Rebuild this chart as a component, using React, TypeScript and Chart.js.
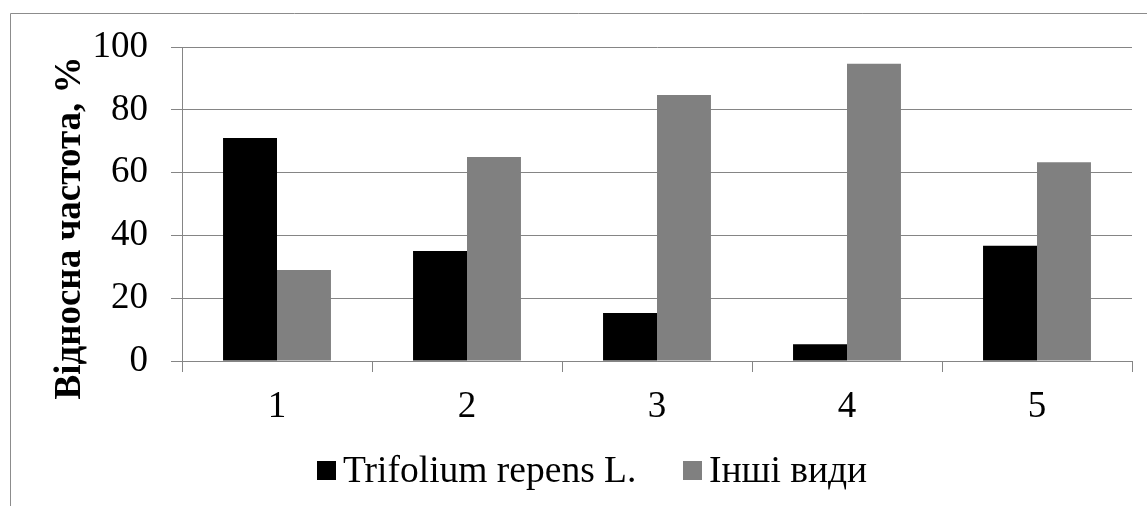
import React, { useEffect, useRef } from "react";
import { Chart, registerables } from "chart.js";

Chart.register(...registerables);

const categories = ["1", "2", "3", "4", "5"];
const trifoliumValues = [71, 35, 15.3, 5.3, 36.7];
const otherValues = [29, 65, 84.7, 94.7, 63.3];
const seriesNames = ["Trifolium repens L.", "Інші види"];
const seriesColors = ["#000000", "#808080"];
const yTitle = "Відносна частота, %";

const FONT = "'Liberation Serif', 'Times New Roman', serif";
const GRID = "#858585";

const framePlugin = {
  id: "frame",
  beforeDraw(chart: any) {
    const ctx = chart.ctx;
    ctx.save();
    ctx.fillStyle = "#ffffff";
    ctx.fillRect(0, 0, chart.width, chart.height);
    ctx.strokeStyle = "#8c8c8c";
    ctx.lineWidth = 1;
    ctx.beginPath();
    ctx.moveTo(10.5, chart.height);
    ctx.lineTo(10.5, 13.5);
    ctx.lineTo(chart.width, 13.5);
    ctx.stroke();
    ctx.restore();
  },
};

const titleAndLegendPlugin = {
  id: "titleLegend",
  afterDraw(chart: any) {
    const ctx = chart.ctx;
    ctx.save();
    // Y axis title
    ctx.translate(80, 228);
    ctx.rotate(-Math.PI / 2);
    ctx.font = `bold 37px ${FONT}`;
    ctx.fillStyle = "#000";
    ctx.textAlign = "center";
    ctx.textBaseline = "alphabetic";
    ctx.fillText(yTitle, 0, 0);
    ctx.restore();

    // Legend
    ctx.save();
    ctx.font = `37.5px ${FONT}`;
    ctx.textBaseline = "alphabetic";
    ctx.textAlign = "left";
    const box = 19;
    const boxTop = 461;
    const baseline = 481.5;
    const starts = [317, 683];
    chart.data.datasets.forEach((ds: any, i: number) => {
      const x = starts[i];
      ctx.fillStyle = ds.backgroundColor;
      ctx.fillRect(x, boxTop, box, box);
      ctx.fillStyle = "#000";
      ctx.fillText(ds.label, x + box + 7, baseline);
    });
    ctx.restore();
  },
};

export default function App() {
  const ref = useRef<HTMLCanvasElement>(null);
  useEffect(() => {
    if (!ref.current) return;
    const chart = new Chart(ref.current, {
      type: "bar",
      data: {
        labels: categories,
        datasets: [
          {
            label: seriesNames[0],
            data: trifoliumValues,
            backgroundColor: seriesColors[0],
            categoryPercentage: 0.568,
            barPercentage: 1,
          },
          {
            label: seriesNames[1],
            data: otherValues,
            backgroundColor: seriesColors[1],
            categoryPercentage: 0.568,
            barPercentage: 1,
          },
        ],
      },
      options: {
        animation: false,
        responsive: false,
        devicePixelRatio: 1,
        layout: { padding: { top: 47, right: 15, left: 0, bottom: 0 } },
        plugins: {
          legend: { display: false },
          title: { display: false },
          tooltip: { enabled: false },
        },
        scales: {
          x: {
            afterFit(scale: any) {
              scale.height = 145;
            },
            grid: {
              display: true,
              drawOnChartArea: false,
              drawTicks: true,
              tickLength: 11,
              color: GRID,
              offset: true,
            },
            border: { display: true, color: GRID },
            ticks: {
              color: "#000",
              font: { family: FONT, size: 37 },
              padding: 13,
              maxRotation: 0,
            },
          },
          y: {
            min: 0,
            max: 100,
            afterFit(scale: any) {
              scale.width = 182;
            },
            grid: {
              color: GRID,
              drawTicks: true,
              tickLength: 11,
            },
            border: { display: true, color: GRID },
            ticks: {
              stepSize: 20,
              color: "#000",
              font: { family: FONT, size: 37 },
              padding: 23,
            },
          },
        },
      },
      plugins: [framePlugin, titleAndLegendPlugin],
    });
    return () => chart.destroy();
  }, []);
  return (
    <div style={{ position: "fixed", left: 0, top: 0, width: 1147, height: 506 }}>
      <canvas ref={ref} width={1147} height={506} style={{ display: "block" }} />
    </div>
  );
}
